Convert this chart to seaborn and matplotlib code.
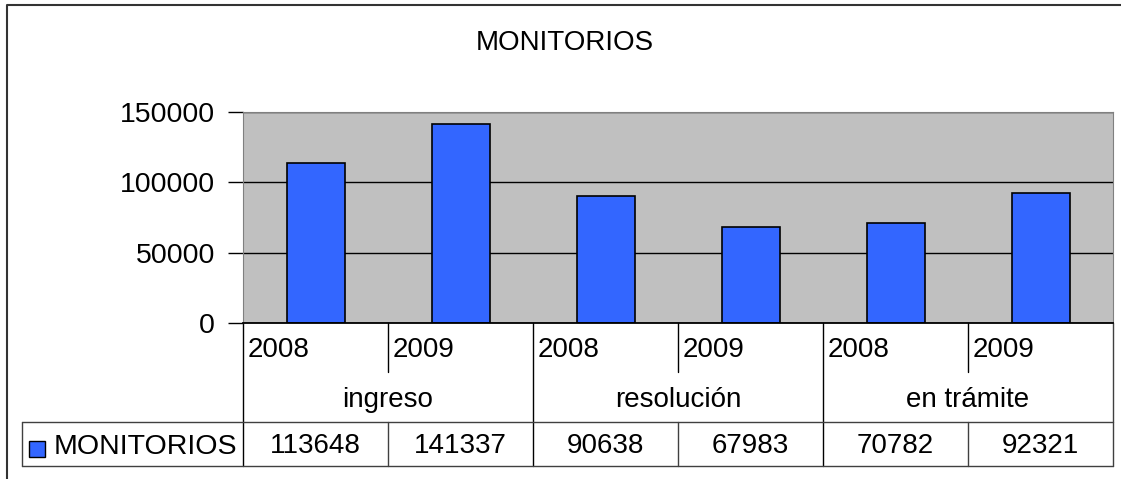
import matplotlib
matplotlib.use("Agg")
import matplotlib.pyplot as plt
from matplotlib.lines import Line2D
from matplotlib.patches import Rectangle
from matplotlib.transforms import blended_transform_factory
import pandas as pd
import seaborn as sns

# Datos
grupos = ["ingreso", "resolución", "en trámite"]
anios = ["2008", "2009"]
valores = [113648, 141337, 90638, 67983, 70782, 92321]
serie = "MONITORIOS"
titulo = "MONITORIOS"
yticks = [0, 50000, 100000, 150000]

df = pd.DataFrame({
    "pos": range(len(valores)),
    "valor": valores,
    "anio": anios * len(grupos),
    "grupo": [g for g in grupos for _ in anios],
})

sns.set_style("white")
plt.rcParams["font.family"] = ["Liberation Sans", "DejaVu Sans"]
plt.rcParams["text.color"] = "black"
plt.rcParams["ytick.labelcolor"] = "black"

azul = "#3366FF"
fs = 20
W, H = 1121, 479
fig = plt.figure(figsize=(W / 100, H / 100), dpi=100)
fy = lambda y: 1 - y / H

ax = fig.add_axes([243 / W, fy(323), (1113 - 243) / W, (323 - 112) / H])
ax.set_facecolor("#C0C0C0")
sns.barplot(data=df, x="pos", y="valor", color=azul, saturation=1,
            edgecolor="black", linewidth=1.2, width=0.4, ax=ax)

ax.set_xlim(-0.5, len(valores) - 0.5)
ax.set_ylim(0, 150000)
ax.set_yticks(yticks)
ax.set_yticklabels([str(v) for v in yticks])
ax.set_xticks([])
ax.set_xlabel("")
ax.set_ylabel("")
ax.yaxis.grid(True, color="black", lw=1)
ax.set_axisbelow(True)
ax.tick_params(axis="y", labelsize=20.5, length=11, width=1, color="black",
               labelcolor="black", direction="out", pad=9, left=True)
for s in ["top", "right", "left"]:
    ax.spines[s].set_color("#808080")
ax.spines["bottom"].set_color("black")
ax.spines["bottom"].set_linewidth(1.3)

# Eje de categorías y tabla de datos
tr = blended_transform_factory(ax.transData, fig.transFigure)
n = len(valores)

def vline(x, y0, y1, color="black"):
    ax.add_line(Line2D([x, x], [fy(y0), fy(y1)], transform=tr, color=color,
                       lw=1, clip_on=False))

for i in range(len(grupos)):
    inicio = i * len(anios) - 0.5
    vline(inicio, 323, 466)
    for j in range(1, len(anios)):
        vline(inicio + j, 323, 372)
        vline(inicio + j, 422, 466, "#404040")
    ax.text(inicio + len(anios) / 2, fy(400), grupos[i], transform=tr,
            ha="center", va="center", fontsize=fs)
vline(n - 0.5, 323, 466, "#404040")

for p, a, v in zip(df["pos"], df["anio"], df["valor"]):
    ax.text(p - 0.47, fy(350), a, transform=tr, ha="left", va="center", fontsize=fs)
    ax.text(p, fy(446), str(v), transform=tr, ha="center", va="center", fontsize=fs)

for y in [422, 466]:
    fig.add_artist(Line2D([22 / W, 1113 / W], [fy(y), fy(y)], color="#404040", lw=1))
fig.add_artist(Line2D([22 / W, 22 / W], [fy(422), fy(466)], color="#404040", lw=1))

# Leyenda dentro de la tabla
fig.add_artist(Rectangle((29 / W, fy(457)), 16 / W, 16 / H, facecolor=azul,
                         edgecolor="black", lw=1, transform=fig.transFigure))
fig.text(54 / W, fy(447), serie, ha="left", va="center", fontsize=20.5)

fig.text(565 / W, fy(43), titulo, ha="center", va="center", fontsize=fs)

# Marco del gráfico
fig.add_artist(Line2D([7 / W, 7 / W, 1], [0, fy(5), fy(5)], color="#333333", lw=1.5))

fig.savefig("out.png", dpi=100)
